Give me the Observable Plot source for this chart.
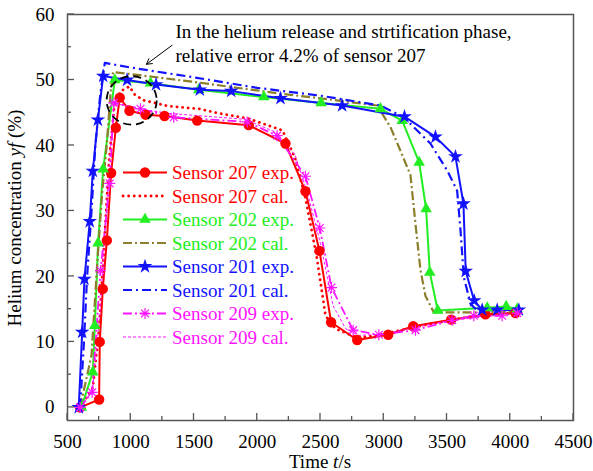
<!DOCTYPE html>
<html>
<head>
<meta charset="utf-8">
<script src="https://cdn.jsdelivr.net/npm/d3@7"></script>
<script src="https://cdn.jsdelivr.net/npm/@observablehq/plot@0.6"></script>
<style>
  body { margin: 0; background: #fff; }
  #chart { width: 593px; height: 471px; }
  #chart svg, #chart svg text { font-family: "Liberation Serif", "Times New Roman", serif !important; }
</style>
</head>
<body>
<div id="chart"></div>
<script>
// Axis ticks
const xTicks = [500, 1000, 1500, 2000, 2500, 3000, 3500, 4000, 4500];
const yTicks = [0, 10, 20, 30, 40, 50, 60];

// Helium concentration (%) against time (s): [t, yf]
const s207exp = [[600,0],[750,1.2],[755,10.0],[779,18.1],[811,25.5],[845,35.8],[882,42.7],[913,47.3],[990,45.3],[1117,44.7],[1267,44.5],[1525,43.8],[1933,43.1],[2223,40.3],[2381,33.0],[2492,23.9],[2584,13.0],[2790,10.3],[3035,11.1],[3233,12.4],[3533,13.4],[3804,14.2],[4041,14.4]];
const s207cal = [[600,0],[700,3],[750,12],[790,25],[830,38],[870,46],[920,48.3],[990,49.0],[1030,47.8],[1100,46.9],[1300,46.0],[1540,45.6],[1700,44.9],[1930,44.1],[2200,42.3],[2300,38],[2380,32],[2470,23],[2540,14],[2620,12],[2800,10.6],[3000,11.2],[3250,12.3],[3550,13.4],[3800,14.2],[4050,14.4]];
const s202exp = [[610,0],[700,5.4],[716,12.5],[742,25.1],[782,36.4],[874,50.0],[1156,49.5],[1538,48.5],[2052,47.4],[2505,46.5],[2974,45.6],[3146,43.8],[3280,37.4],[3335,30.3],[3364,20.6],[3427,14.8],[3818,15.2],[3968,15.4],[4055,15.0]];
const s202cal = [[600,0],[690,8],[735,22],[775,33],[810,40],[840,48],[860,51.2],[1000,50.9],[1500,49.7],[2000,48.4],[2184,47.9],[2500,47.2],[2948,46.1],[3053,42.8],[3119,39.8],[3211,35.5],[3251,28.0],[3290,21.0],[3330,17.0],[3396,14.5],[3600,14.5],[4060,14.6]];
const s201exp = [[589,0],[616,11.5],[634,19.6],[676,28.4],[700,36.1],[740,43.9],[782,50.6],[971,50.0],[1200,49.3],[1546,48.5],[1794,48.3],[2184,47.2],[2671,46.1],[3164,44.4],[3409,41.3],[3567,38.3],[3630,31.1],[3648,20.8],[3715,16.3],[3778,14.9],[3897,14.9],[4068,14.9]];
const s201cal = [[600,0],[630,10],[655,20],[690,30],[720,40],[760,48],[795,52.6],[1000,51.9],[1500,50.4],[2000,48.8],[2500,47.6],[2974,46.1],[3159,44.3],[3369,40.3],[3501,36.2],[3580,33.1],[3607,27.0],[3633,19.9],[3686,15.8],[3738,14.8],[4068,14.9]];
const s209exp = [[600,0],[695,2.3],[761,20.9],[834,34.2],[866,46.5],[1077,45.6],[1340,44.3],[1920,43.6],[2157,41.5],[2381,35.3],[2494,27.4],[2587,18.3],[2758,11.8],[2961,11.1],[3251,11.8],[3541,13.3],[3712,14.0],[3936,14.0],[4055,14.4]];
const s209cal = [[600,0],[700,3],[760,15],[800,28],[840,40],[870,46.5],[1000,45.8],[1300,44.9],[1900,44.0],[2150,42.0],[2300,38.5],[2400,32.5],[2500,25],[2600,15.5],[2700,12],[2800,11],[3000,11.2],[3500,13.2],[4050,14.4]];

const legendLabels = ["Sensor 207 exp.", "Sensor 207 cal.", "Sensor 202 exp.", "Sensor 202 cal.",
                      "Sensor 201 exp.", "Sensor 201 cal.", "Sensor 209 exp.", "Sensor 209 cal."];

const noteLine1 = "In the helium release and strtification phase,";
const noteLine2 = "relative error 4.2% of sensor 207";

// Colours
const RED = "#ff0000", GREEN = "#22ee22", OLIVE = "#8c7f2c", BLUE = "#1212ff", MAGENTA = "#ff14ff";

// Eight-armed asterisk used for sensor 209
const asterisk8 = {
  draw(context, size) {
    const r = Math.sqrt(size / Math.PI);
    for (let a = 0; a < 4; a++) {
      const ang = a * Math.PI / 4;
      const dx = r * Math.cos(ang), dy = r * Math.sin(ang);
      context.moveTo(dx, dy);
      context.lineTo(-dx, -dy);
    }
  }
};

// Line and marker styles per series
const styles = [
  {data: s207exp, stroke: RED,     width: 2,   dash: null,       symbol: d3.symbolCircle,   r: 5.2, fill: RED,   text: RED},
  {data: s207cal, stroke: RED,     width: 2.8, dash: "0.1,5.5",  symbol: null,              r: 0,   fill: null,  text: RED, cap: "round"},
  {data: s202exp, stroke: GREEN,   width: 2,   dash: null,       symbol: d3.symbolTriangle, r: 4.3, fill: GREEN, text: GREEN},
  {data: s202cal, stroke: OLIVE,   width: 2.2, dash: "9,3,2,3",  symbol: null,              r: 0,   fill: null,  text: GREEN},
  {data: s201exp, stroke: BLUE,    width: 2,   dash: null,       symbol: d3.symbolStar,     r: 4.6, fill: BLUE,  text: BLUE},
  {data: s201cal, stroke: BLUE,    width: 2.2, dash: "9,4,2,4",  symbol: null,              r: 0,   fill: null,  text: BLUE},
  {data: s209exp, stroke: MAGENTA, width: 1.8, dash: "9,3,2,3",  symbol: asterisk8,         r: 5.5, fill: "none", text: MAGENTA},
  {data: s209cal, stroke: MAGENTA, width: 1,   dash: "3,2",      symbol: null,              r: 0,   fill: null,  text: MAGENTA}
];

const FONT = "'Liberation Serif', 'Times New Roman', serif";

const marks = [];
for (const s of styles) {
  marks.push(Plot.line(s.data, {
    x: d => d[0], y: d => d[1], stroke: s.stroke, strokeWidth: s.width,
    strokeDasharray: s.dash ?? undefined, strokeLinecap: s.cap ?? "butt", strokeLinejoin: "round"
  }));
}
for (const s of styles) {
  if (!s.symbol) continue;
  marks.push(Plot.dot(s.data, {
    x: d => d[0], y: d => d[1], r: s.r, symbol: s.symbol,
    fill: s.fill, stroke: s.fill === "none" ? s.stroke : "none", strokeWidth: 1.2
  }));
}

const plot = Plot.plot({
  width: 593,
  height: 471,
  marginLeft: 67,
  marginRight: 20,
  marginTop: 14,
  marginBottom: 51,
  style: {fontFamily: FONT, fontSize: "19px", background: "#fff", color: "#000", overflow: "visible"},
  x: {domain: [500, 4500], label: null},
  y: {domain: [-2, 60], label: null},
  marks: [
    ...marks,
    Plot.arrow([{x1: 1327, y1: 55.3, x2: 1124, y2: 52.4}], {
      x1: "x1", y1: "y1", x2: "x2", y2: "y2", stroke: "#000", strokeWidth: 1, headLength: 9
    }),
    Plot.text([noteLine1], {
      x: 1354, y: 56.4, text: d => d, textAnchor: "start", lineAnchor: "bottom", fontSize: 19, fill: "#000"
    }),
    Plot.text([noteLine2], {
      x: 1354, y: 52.8, text: d => d, textAnchor: "start", lineAnchor: "bottom", fontSize: 19, fill: "#000"
    }),
    Plot.axisX(xTicks, {anchor: "bottom", tickSize: 0, tickPadding: 14, tickFormat: d => String(d), label: null, fontSize: 19}),
    Plot.axisY(yTicks, {anchor: "left", tickSize: 0, tickPadding: 13, tickFormat: d => String(d), label: null, fontSize: 19}),
    Plot.frame({stroke: "#555", strokeWidth: 1.5})
  ]
});

document.getElementById("chart").appendChild(plot);

// Decorations that use the plot's own scales
const svg = d3.select(plot);
const X = plot.scale("x"), Y = plot.scale("y");
const x0 = X.range[0], x1 = X.range[1];
const yb = Y.range[0];

const g = svg.append("g").attr("stroke", "#555").attr("stroke-width", 1.3);
for (let v = 500; v <= 4500; v += 250) {
  const px = X.apply(v), len = (v % 500 === 0) ? 7 : 4;
  g.append("line").attr("x1", px).attr("x2", px).attr("y1", yb).attr("y2", yb - len);
}
for (let v = 0; v <= 60; v += 5) {
  const py = Y.apply(v), len = (v % 10 === 0) ? 7 : 4;
  g.append("line").attr("x1", x0).attr("x2", x0 + len).attr("y1", py).attr("y2", py);
}

// Dashed ring around the release/stratification peak
const cx = X.apply(1011), cy = Y.apply(46.8);
svg.append("ellipse")
  .attr("cx", cx).attr("cy", cy)
  .attr("rx", X.apply(1011 + 198) - cx).attr("ry", cy - Y.apply(46.8 + 3.7))
  .attr("fill", "none").attr("stroke", "#000").attr("stroke-width", 1.8).attr("stroke-dasharray", "8,5");

// Axis titles
const xt = svg.append("text").attr("x", (x0 + x1) / 2).attr("y", 468).attr("text-anchor", "middle")
  .attr("font-family", FONT).attr("font-size", 19).attr("fill", "#000");
xt.append("tspan").text("Time ");
xt.append("tspan").attr("font-style", "italic").text("t");
xt.append("tspan").text("/s");

const yt = svg.append("text").attr("transform", "translate(21,218) rotate(-90)").attr("text-anchor", "middle")
  .attr("font-family", FONT).attr("font-size", 19).attr("fill", "#000");
yt.append("tspan").text("Helium concentration ");
yt.append("tspan").attr("font-style", "italic").text("yf");
yt.append("tspan").text(" (%)");

// Legend
const lg = svg.append("g");
styles.forEach((s, i) => {
  const ry = 172.5 + i * 23.5;
  lg.append("line").attr("x1", 123).attr("x2", 167).attr("y1", ry).attr("y2", ry)
    .attr("stroke", s.stroke).attr("stroke-width", s.width)
    .attr("stroke-dasharray", s.dash).attr("stroke-linecap", s.cap ?? "butt");
  if (s.symbol) {
    lg.append("path").attr("transform", `translate(145,${ry})`)
      .attr("d", d3.symbol(s.symbol, Math.PI * s.r * s.r)())
      .attr("fill", s.fill).attr("stroke", s.fill === "none" ? s.stroke : "none").attr("stroke-width", 1.2);
  }
  lg.append("text").attr("x", 172).attr("y", ry + 6.5).attr("text-anchor", "start")
    .attr("font-family", FONT).attr("font-size", 19).attr("fill", s.text).text(legendLabels[i]);
});
</script>
</body>
</html>
